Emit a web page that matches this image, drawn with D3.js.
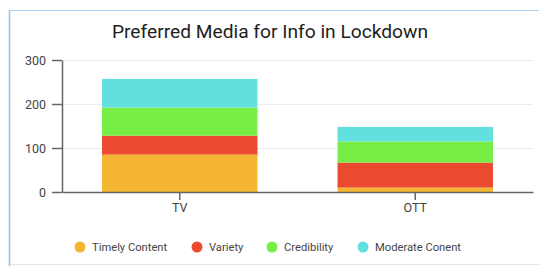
<!DOCTYPE html>
<html>
<head>
<meta charset="utf-8">
<script src="https://cdn.jsdelivr.net/npm/d3@7"></script>
<style>
  html, body { margin: 0; padding: 0; background: #fff; }
  svg { display: block; font-family: Roboto, sans-serif; }
</style>
</head>
<body>
<svg id="chart" width="539" height="266"></svg>
<script>
// chart data
const categories = ['TV', 'OTT'];
const seriesNames = ['Timely Content', 'Variety', 'Credibility', 'Moderate Conent'];
const seriesColors = ['#f4b631', '#eb4a2e', '#77ee46', '#62dfdf'];
const timely = [85, 10];
const variety = [43, 57];
const credibility = [64, 48];
const moderate = [65, 33];
const yTicks = [0, 100, 200, 300];

const W = 539, H = 266;
const M = { l: 62, r: 6, t: 60, b: 74 };

const svg = d3.select('#chart');

// card frame
svg.append('rect').attr('x', 9.5).attr('y', 10.5).attr('width', W).attr('height', 254)
  .attr('fill', '#fff').attr('stroke', '#e4e4e4');
svg.append('line').attr('x1', 9.5).attr('x2', 9.5).attr('y1', 10).attr('y2', H)
  .attr('stroke', '#8fc1ee').attr('stroke-width', 1.5);
svg.append('line').attr('x1', 9).attr('x2', W).attr('y1', 10.5).attr('y2', 10.5)
  .attr('stroke', '#a9d0f2').attr('stroke-width', 1.2);

svg.append('text').attr('x', 270).attr('y', 38).attr('text-anchor', 'middle')
  .attr('font-size', 19.2).attr('fill', '#1e1e1e').text('Preferred Media for Info in Lockdown');

const rows = categories.map((c, i) => ({
  cat: c, 'Timely Content': timely[i], 'Variety': variety[i],
  'Credibility': credibility[i], 'Moderate Conent': moderate[i]
}));
const stacked = d3.stack().keys(seriesNames)(rows);

const x = d3.scaleBand().domain(categories).range([M.l, W - M.r]).paddingInner(0.34).paddingOuter(0.17);
const y = d3.scaleLinear().domain([0, 300]).range([H - M.b, M.t]);

// grid
svg.append('g').selectAll('line').data(yTicks.slice(1)).join('line')
  .attr('x1', M.l).attr('x2', W - M.r)
  .attr('y1', d => Math.round(y(d)) + 0.5).attr('y2', d => Math.round(y(d)) + 0.5)
  .attr('stroke', '#ececec');

// bars
svg.append('g').selectAll('g').data(stacked).join('g')
  .attr('fill', (d, i) => seriesColors[i])
  .selectAll('rect').data(d => d).join('rect')
  .attr('x', d => x(d.data.cat)).attr('width', x.bandwidth())
  .attr('y', d => y(d[1])).attr('height', d => y(d[0]) - y(d[1]));

// axes
const yAxis = svg.append('g').attr('transform', `translate(${M.l},0)`)
  .call(d3.axisLeft(y).tickValues(yTicks).tickSize(10).tickPadding(6).tickSizeOuter(0));
const xAxis = svg.append('g').attr('transform', `translate(0,${H - M.b})`)
  .call(d3.axisBottom(x).tickSize(8).tickPadding(3).tickSizeOuter(0));
[yAxis, xAxis].forEach(a => {
  a.select('.domain').attr('stroke', '#666').attr('stroke-width', 1.5);
  a.selectAll('.tick line').attr('stroke', '#666').attr('stroke-width', 1.5);
  a.selectAll('text').attr('font-family', 'Roboto, sans-serif').attr('font-size', 12.5).attr('fill', '#444');
});

// legend
const legX = [80, 197, 272, 363];
const leg = svg.append('g').selectAll('g').data(seriesNames).join('g')
  .attr('transform', (d, i) => `translate(${legX[i]},247)`);
leg.append('circle').attr('r', 5.5).attr('fill', (d, i) => seriesColors[i]);
leg.append('text').attr('x', 12).attr('dy', '0.35em').attr('font-size', 11.2)
  .attr('fill', '#444').text(d => d);
</script>
</body>
</html>
